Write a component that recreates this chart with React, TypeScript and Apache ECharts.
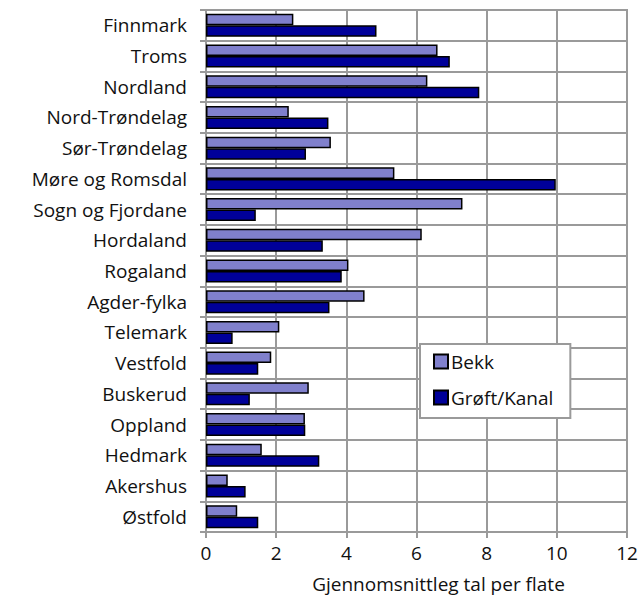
import React, { useEffect, useRef } from "react";
import * as echarts from "echarts";

const categories = [
  "Finnmark",
  "Troms",
  "Nordland",
  "Nord-Trøndelag",
  "Sør-Trøndelag",
  "Møre og Romsdal",
  "Sogn og Fjordane",
  "Hordaland",
  "Rogaland",
  "Agder-fylka",
  "Telemark",
  "Vestfold",
  "Buskerud",
  "Oppland",
  "Hedmark",
  "Akershus",
  "Østfold",
];

const bekk = [2.49, 6.6, 6.31, 2.36, 3.56, 5.37, 7.31, 6.15, 4.06, 4.52, 2.09, 1.86, 2.93, 2.82, 1.59, 0.62, 0.89];
const groft = [4.86, 6.95, 7.79, 3.49, 2.85, 9.97, 1.42, 3.33, 3.87, 3.52, 0.76, 1.49, 1.25, 2.83, 3.23, 1.13, 1.49];

const xTicks = { min: 0, max: 12, interval: 2 };
const xName = "Gjennomsnittleg tal per flate";

const FONT = "'Open Sans', 'DejaVu Sans', sans-serif";
const FS = 19;
const GRID_COLOR = "#9a9a9a";

export default function App() {
  const ref = useRef<HTMLDivElement>(null);
  useEffect(() => {
    if (!ref.current) return;
    const chart = echarts.init(ref.current, undefined, { renderer: "svg" });
    chart.setOption({
      animation: false,
      backgroundColor: "#ffffff",
      textStyle: { fontFamily: FONT, color: "#111" },
      grid: {
        left: 206,
        right: 17,
        top: 10,
        bottom: 73,
        show: true,
        borderColor: GRID_COLOR,
        borderWidth: 2,
        containLabel: false,
      },
      legend: {
        orient: "vertical",
        left: 420,
        top: 344,
        padding: [8, 17, 11, 13],
        itemWidth: 14,
        itemHeight: 14,
        itemGap: 17,
        backgroundColor: "#ffffff",
        borderColor: GRID_COLOR,
        borderWidth: 2,
        borderRadius: 0,
        textStyle: { fontFamily: FONT, fontSize: FS, color: "#111", padding: [0, 0, 0, -2] },
        data: [
          { name: "Bekk", icon: "rect" },
          { name: "Grøft/Kanal", icon: "rect" },
        ],
      },
      xAxis: {
        type: "value",
        min: xTicks.min,
        max: xTicks.max,
        interval: xTicks.interval,
        axisLine: { show: true, lineStyle: { color: GRID_COLOR, width: 2 } },
        axisTick: { show: true, length: 6, lineStyle: { color: GRID_COLOR, width: 2 } },
        axisLabel: { fontFamily: FONT, fontSize: FS, color: "#111", margin: 11 },
        splitLine: { show: true, lineStyle: { color: GRID_COLOR, width: 2 } },
        name: xName,
        nameLocation: "middle",
        nameGap: 42,
        nameTextStyle: { fontFamily: FONT, fontSize: FS, color: "#111", padding: [0, 0, 0, 44] },
      },
      yAxis: {
        type: "category",
        inverse: true,
        data: categories,
        axisLine: { show: true, lineStyle: { color: GRID_COLOR, width: 2 } },
        axisTick: { show: true, length: 6, lineStyle: { color: GRID_COLOR, width: 2 } },
        axisLabel: { fontFamily: FONT, fontSize: FS, color: "#111", margin: 19 },
        splitLine: { show: true, lineStyle: { color: GRID_COLOR, width: 2 } },
      },
      series: [
        {
          name: "Bekk",
          type: "bar",
          data: bekk,
          barGap: "0%",
          barCategoryGap: "25%",
          itemStyle: { color: "#8080cc", borderColor: "#000", borderWidth: 1.5 },
        },
        {
          name: "Grøft/Kanal",
          type: "bar",
          data: groft,
          barGap: "0%",
          barCategoryGap: "25%",
          itemStyle: { color: "#000099", borderColor: "#000", borderWidth: 1.5 },
        },
      ],
    });
    return () => chart.dispose();
  }, []);
  return (
    <div
      ref={ref}
      style={{ position: "fixed", left: 0, top: 0, width: 644, height: 605, background: "#fff" }}
    />
  );
}
